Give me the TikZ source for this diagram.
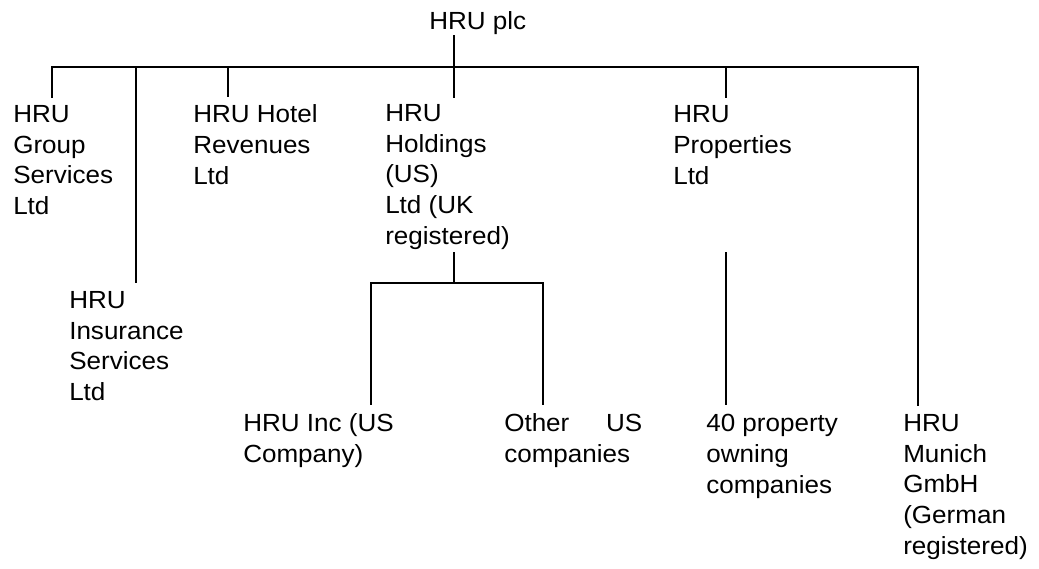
\documentclass[tikz,border=0pt]{standalone}
\usepackage{fontspec}
\setmainfont[FakeStretch=1.05]{Liberation Sans}
\usetikzlibrary{positioning,calc}

\begin{document}
\begin{tikzpicture}[
  x=0.75pt, y=-0.75pt,
  co/.style={anchor=base west,inner sep=0pt,align=left,
    font=\fontsize{18.6}{22.9}\selectfont},
  wire/.style={line width=1.5pt}
]
\useasboundingbox (0,0) rectangle (1039,568);
% companies (placed at the baseline of their last line)
\node[co] (plc)   at (429,29)    {HRU plc};
\node[co] (grp)   at (13,214.5)  {HRU\\Group\\Services\\Ltd};
\node[co] (ins)   at (69,400.5)  {HRU\\Insurance\\Services\\Ltd};
\node[co] (hotel) at (193,184)   {HRU Hotel\\Revenues\\Ltd};
\node[co] (hold)  at (385,244)   {HRU\\Holdings\\(US)\\Ltd (UK\\registered)};
\node[co] (prop)  at (673,184)   {HRU\\Properties\\Ltd};
\node[co] (inc)   at (243,462.5) {HRU Inc (US\\Company)};
\node[co] (oth)   at (504,462.5) {\makebox[103.5pt][s]{Other\hfill US}\\companies};
\node[co] (own)   at (706,493)   {40 property\\owning\\companies};
\node[co] (mun)   at (903,554)   {HRU\\Munich\\GmbH\\(German\\registered)};
% junctions
\coordinate (busL) at (52,67);
\coordinate (busR) at (918,67);
\coordinate (jIns) at (136,67);
\coordinate (jHot) at (228,67);
\coordinate (jHld) at (454,67);
\coordinate (jPrp) at (726,67);
\coordinate (subT) at (454,283);
\coordinate (subL) at (371,283);
\coordinate (subR) at (543,283);
% lines
\draw[wire] ($(busL |- grp.north)+(0,-8)$) -- (busL) -- (busR) -- ($(busR |- mun.north)+(0,-9)$);
\draw[wire] ($(jHld |- plc.south)+(0,1)$) -- (jHld) -- ($(jHld |- hold.north)+(0,-7)$);
\draw[wire] (jIns) -- ($(jIns |- ins.north)+(0,-9)$);
\draw[wire] (jHot) -- ($(jHot |- hotel.north)+(0,-8)$);
\draw[wire] (jPrp) -- ($(jPrp |- prop.north)+(0,-8)$);
\draw[wire] ($(subT |- hold.south)+(0,3)$) -- (subT);
\draw[wire] ($(subL |- inc.north)+(0,-9)$) -- (subL) -- (subR) -- ($(subR |- oth.north)+(0,-9)$);
\draw[wire] (jPrp |- 0,252) -- ($(jPrp |- own.north)+(0,-9)$);
\end{tikzpicture}
\end{document}
